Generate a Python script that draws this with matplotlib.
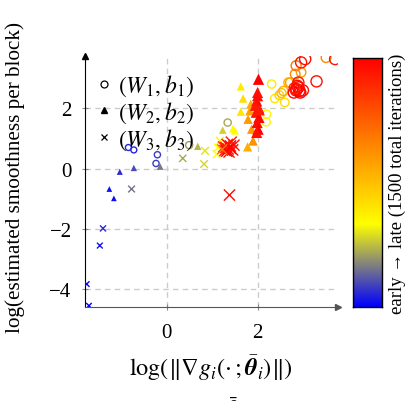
import matplotlib
matplotlib.use("Agg")
import matplotlib.pyplot as plt
from matplotlib.colors import LinearSegmentedColormap
from matplotlib.lines import Line2D
import numpy as np

plt.rcParams['font.family'] = ['Liberation Serif', 'DejaVu Serif']
plt.rcParams['mathtext.fontset'] = 'stix'

# (W1, b1) - circles
circ_x = [-0.85, -0.73, -0.21, -0.24, 0.49, 1.34,
          2.31, 2.20, 2.19, 2.38, 2.60, 2.48, 2.53, 2.57,
          2.72, 2.83, 2.85, 2.96, 3.51, 2.68,
          2.96, 3.05, 2.90, 2.86, 2.80, 2.94, 2.90, 3.30, 3.71, 2.85, 2.92, 2.88, 3.00, 2.82]
circ_y = [0.70, 0.62, 0.46, 0.17, 0.78, 1.53,
          2.81, 1.81, 1.55, 2.33, 2.20, 2.44, 2.51, 2.58,
          2.86, 3.14, 3.42, 3.20, 3.69, 2.86,
          3.53, 3.64, 2.86, 2.64, 2.53, 2.53, 2.70, 2.90, 3.64, 2.60, 2.58, 2.75, 2.60, 2.68]
circ_t = [0.05, 0.05, 0.08, 0.08, 0.20, 0.22,
          0.38, 0.36, 0.36, 0.40, 0.42, 0.45, 0.50, 0.55,
          0.60, 0.65, 0.70, 0.60, 0.65, 0.55,
          0.95, 0.97, 0.95, 0.97, 0.98, 1.00, 0.99, 0.96, 0.95, 0.99, 1.00, 0.98, 0.96, 0.93]

# (W2, b2) - triangles
tri_x = [-1.27, -1.17, -1.04, -0.73, -0.15, 0.68, 1.23, 1.46, 1.50,
         1.63, 1.68, 1.63, 1.85, 1.83, 1.79, 1.87, 1.90, 1.78,
         2.02, 2.00, 2.00, 1.98, 2.02, 1.97, 2.03, 1.99, 2.01, 1.98, 1.95, 2.04]
tri_y = [-0.68, -0.99, -0.11, 0.02, 0.07, 0.74, 1.28, 1.33, 1.26,
         2.73, 2.33, 1.89, 2.14, 1.92, 1.64, 1.31, 0.92, 0.72,
         2.97, 2.53, 2.42, 2.25, 2.03, 1.87, 1.70, 1.53, 1.31, 1.20, 2.10, 1.95]
tri_t = [0.02, 0.02, 0.06, 0.10, 0.16, 0.24, 0.27, 0.33, 0.34,
         0.38, 0.42, 0.40, 0.55, 0.58, 0.60, 0.60, 0.62, 0.55,
         1.00, 0.95, 0.96, 0.97, 0.98, 0.95, 0.99, 0.97, 1.00, 0.96, 0.94, 0.93]

# (W3, b3) - crosses
cross_x = [-1.72, -1.77, -1.48, -1.41, -0.78, 0.35, 0.82, 0.84, 1.10, 1.13, 1.17, 1.38,
           1.30, 1.35, 1.40, 1.28, 1.45, 1.33, 1.42, 1.37, 1.25, 1.48, 1.32, 1.40, 1.22]
cross_y = [-4.56, -3.84, -2.56, -1.99, -0.68, 0.34, 0.15, 0.59, 0.48, 0.70, 0.92, -0.88,
           0.70, 0.65, 0.75, 0.60, 0.62, 0.80, 0.88, 0.55, 0.72, 0.78, 0.58, 0.68, 0.64]
cross_t = [0.00, 0.01, 0.03, 0.06, 0.15, 0.22, 0.28, 0.30, 0.33, 0.34, 0.36, 0.97,
           0.95, 0.97, 1.00, 0.96, 0.98, 0.99, 0.94, 0.96, 0.93, 0.95, 1.00, 0.99, 0.70]

cmap = LinearSegmentedColormap.from_list(
    "earlylate",
    [(0.0, (0, 0, 1)), (1/6, (0.5, 0.5, 0.5)), (1/3, (1, 1, 0)),
     (2/3, (1, 0.5, 0)), (1.0, (1, 0, 0))])

fig = plt.figure(figsize=(4.14, 4.02), dpi=100)
ax = fig.add_axes([0.205, 0.234, 0.611, 0.624])


def sizes(t):
    return 16 + 50 * np.asarray(t)


ax.scatter(circ_x, circ_y, s=sizes(circ_t), facecolors='none',
           edgecolors=cmap(np.asarray(circ_t)), linewidths=1.0, zorder=3)
ax.scatter(tri_x, tri_y, s=sizes(tri_t), marker='^', c=tri_t, cmap=cmap,
           vmin=0, vmax=1, linewidths=0, zorder=3)
ax.scatter(cross_x, cross_y, s=sizes(cross_t), marker='x', c=cross_t, cmap=cmap,
           vmin=0, vmax=1, linewidths=1.0, zorder=3)

ax.set_xlim(-1.81, 3.77)
ax.set_ylim(-4.6, 3.74)
ax.set_xticks([0, 2])
ax.set_yticks([-4, -2, 0, 2])
ax.set_yticklabels(["\u22124", "\u22122", "0", "2"])
ax.grid(True, color='#cccccc', linestyle=(0, (4, 3)), linewidth=1.0)
ax.set_axisbelow(True)
ax.tick_params(direction='inout', length=5, color='#888888', labelsize=15)
ax.tick_params(axis='x', pad=9)
ax.tick_params(axis='y', pad=7)

for s in ['top', 'right']:
    ax.spines[s].set_visible(False)
ax.spines['left'].set_color('black')
ax.spines['bottom'].set_color('#555555')
ax.plot(1, 0, '>', color='#555555', ms=4, transform=ax.transAxes, clip_on=False)
ax.plot(0, 1, '^', color='black', ms=4, transform=ax.transAxes, clip_on=False)

ax.set_xlabel(r"$\log(\|\nabla g_i(\cdot\,;\bar{\boldsymbol{\theta}}_i)\|)$", fontsize=17.5)
ax.xaxis.set_label_coords(0.5, -0.18)
ax.set_ylabel("log(estimated smoothness per block)", fontsize=15.2)
ax.yaxis.set_label_coords(-0.235, 0.52)

handles = [
    Line2D([], [], marker='o', ls='none', mfc='none', mec='black', ms=5, mew=0.9),
    Line2D([], [], marker='^', ls='none', color='black', ms=5),
    Line2D([], [], marker='x', ls='none', color='black', ms=5, mew=0.9),
]
labels = [r"$(W_1, b_1)$", r"$(W_2, b_2)$", r"$(W_3, b_3)$"]
ax.legend(handles, labels, loc='upper left', bbox_to_anchor=(-0.01, 0.99),
          frameon=False, fontsize=17, handlelength=0.6, handletextpad=0.3,
          labelspacing=0.05, borderaxespad=0.2)

# colorbar
cax = fig.add_axes([0.853, 0.234, 0.070, 0.619])
grad = np.linspace(0, 1, 256).reshape(-1, 1)
cax.imshow(grad, aspect='auto', cmap=cmap, origin='lower', extent=[0, 1, 0, 1])
cax.set_xticks([])
cax.set_yticks([])
for s in cax.spines.values():
    s.set_linewidth(1.0)
cax.yaxis.set_label_position('right')
cax.set_ylabel("early \u2192 late (1500 total iterations)", fontsize=13.5, labelpad=5)

# clipped fragment at bottom edge
fig.text(232 / 414, 1 - 398 / 402, r"$\bar{\boldsymbol{\theta}}$", fontsize=15,
         ha='center', va='top')

fig.savefig("out.png", dpi=100)
